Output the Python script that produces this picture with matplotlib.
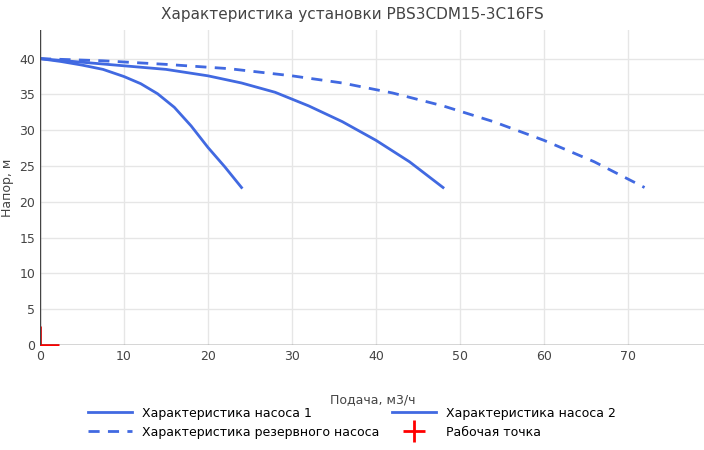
import matplotlib
matplotlib.use("Agg")
import matplotlib.pyplot as plt

q1 = [0, 2.5, 5, 7.5, 10, 12, 14, 16, 18, 20, 22, 24]
h1 = [40, 39.6, 39.1, 38.5, 37.5, 36.5, 35.1, 33.2, 30.6, 27.6, 24.9, 22]
q2 = [0, 5, 10, 15, 20, 24, 28, 32, 36, 40, 44, 48]
h2 = [40, 39.5, 39, 38.5, 37.6, 36.6, 35.3, 33.4, 31.2, 28.6, 25.6, 22]
q3 = [0, 7.5, 15, 22.5, 30, 36, 42, 48, 54, 60, 66, 72]
h3 = [40, 39.7, 39.2, 38.6, 37.6, 36.6, 35.2, 33.4, 31.2, 28.6, 25.6, 22]
wq, wh = [0], [0]

fig = plt.figure(figsize=(7.04, 4.5), dpi=100)
ax = fig.add_axes([40/704, 105/450, 665/704, 315/450])
ax.set_facecolor("white")
for s in ax.spines.values():
    s.set_visible(False)
ax.grid(color="#e6e6e6", lw=1)
ax.set_axisbelow(True)
c = "#4169e1"
l1, = ax.plot(q1, h1, color=c, lw=2, label="Характеристика насоса 1")
l3, = ax.plot(q3, h3, color=c, lw=2, ls=(0, (4, 3)), label="Характеристика резервного насоса")
l2, = ax.plot(q2, h2, color=c, lw=2, label="Характеристика насоса 2")
ax.plot(wq, wh, marker="+", color="red", ms=28, mew=2, ls="none", clip_on=True)
ax.axhline(0, color="#444", lw=1)
ax.axvline(0, color="#444", lw=1)
wp, = ax.plot([], [], marker="+", color="red", ms=16, mew=2, ls="none", label="Рабочая точка")
ax.set_xlim(0, 79.2)
ax.set_ylim(0, 44)
ax.set_xticks(range(0, 80, 10))
ax.set_yticks(range(0, 45, 5))
ax.tick_params(length=0, labelsize=9, colors="#444")
ax.set_xlabel("Подача, м3/ч", fontsize=9, color="#444", labelpad=22)
ax.set_ylabel("Напор, м", fontsize=9, color="#444")
fig.suptitle("Характеристика установки PBS3CDM15-3C16FS", y=0.985, fontsize=11, color="#444")
fig.legend([l1, l3, l2, wp], [l1.get_label(), l3.get_label(), l2.get_label(), wp.get_label()],
           ncol=2, loc="lower center", bbox_to_anchor=(0.5, 0.0), frameon=False, fontsize=9,
           columnspacing=1.0, handlelength=3.5, labelspacing=0.5)
fig.savefig("out.png")
